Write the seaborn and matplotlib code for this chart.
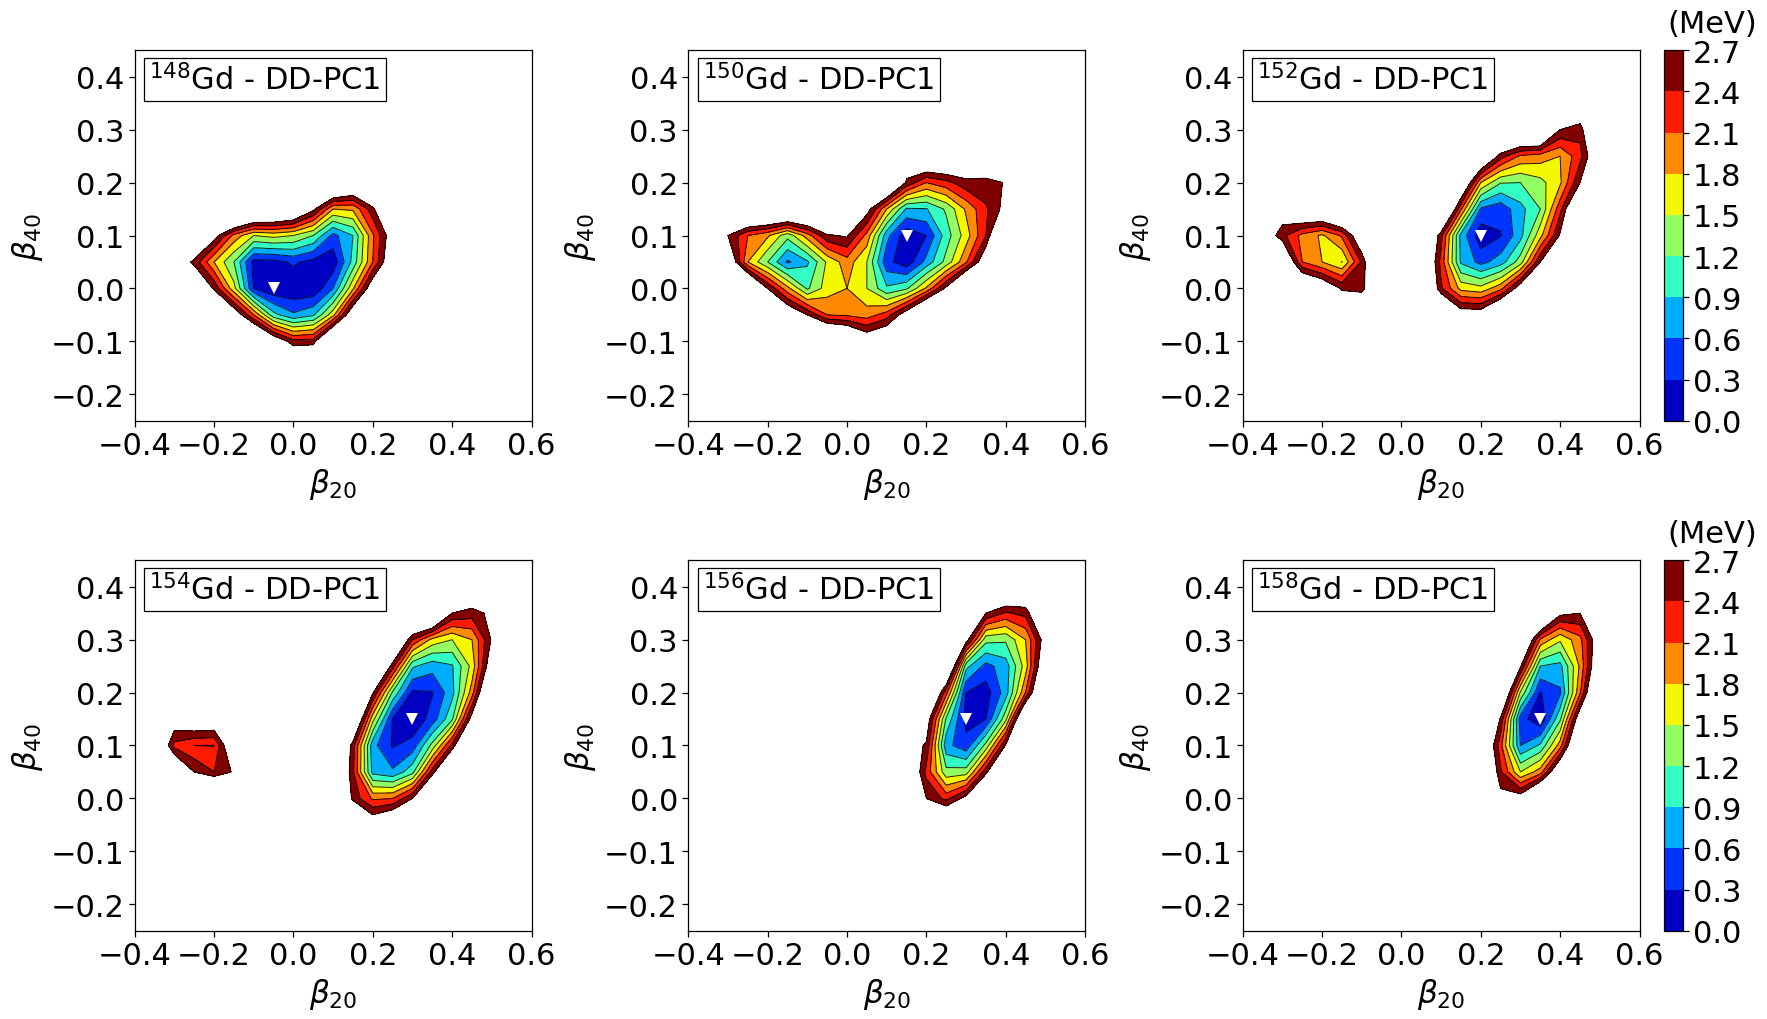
import numpy as np
import matplotlib
matplotlib.use("Agg")
import matplotlib.pyplot as plt
from matplotlib.colors import Normalize
import seaborn as sns

sns.set_style("ticks")
plt.rcParams['font.family'] = ['DejaVu Sans']
plt.rcParams['mathtext.fontset'] = 'dejavusans'

beta20 = [-0.35,-0.30,-0.25,-0.20,-0.15,-0.10,-0.05,0.0,0.05,0.10,0.15,0.20,0.25,0.30,0.35,0.40,0.45,0.50,0.55]
beta40 = [0.40,0.35,0.30,0.25,0.20,0.15,0.10,0.05,0.0,-0.05,-0.10,-0.15]
levels = [0.0,0.3,0.6,0.9,1.2,1.5,1.8,2.1,2.4,2.7]
tick_x = [-0.4,-0.2,0.0,0.2,0.4,0.6]
tick_y = [-0.2,-0.1,0.0,0.1,0.2,0.3,0.4]

labels = ['148','150','152','154','156','158']
minima = [(-0.05,0.0),(0.15,0.1),(0.2,0.1),(0.3,0.15),(0.3,0.15),(0.35,0.15)]

gd148 = [
[4,4,4,4,4,4,4,4,4,4,4,4,4,4,4,4,4,4,4],
[4,4,4,4,4,4,4,4,4,4,4,4,4,4,4,4,4,4,4],
[4,4,4,4,4,4,4,4,4,4,4,4,4,4,4,4,4,4,4],
[4,4,4,4,4,4,4,4,4,4,4,4,4,4,4,4,4,4,4],
[4,4,4,4,4,4,4,4,4,3.95,3.5,4,4,4,4,4,4,4,4],
[4,4,4,4,4.5,3.95,3.8,3.55,2.8,1.8,1.85,2.6,3.8,4,4,4,4,4,4],
[4,4,3.6,2.9,2.0,1.5,1.6,1.5,1.2,0.5,0.9,2.05,3.0,4,4,4,4,4,4],
[4,3.2,2.6,1.8,1.2,0.2,0.2,0.35,0.2,0.1,1.0,2.1,3.2,4,4,4,4,4,4],
[4,4,3.4,2.65,1.6,0.3,0.05,0.05,0.05,0.6,1.75,3.1,4,4,4,4,4,4,4],
[4,4,4,3.8,3.1,2.1,1.0,0.65,0.85,1.7,3.2,4,4,4,4,4,4,4,4],
[4,4,4,4,4,4,3.15,2.5,2.55,4,4,4,4,4,4,4,4,4,4],
[4,4,4,4,4,4,4,3.7,3.7,4,4,4,4,4,4,4,4,4,4],
]
gd150 = [
[4,4,4,4,4,4,4,4,4,4,4,4,4,4,4,4,4,4,4],
[4,4,4,4,4,4,4,4,4,4,4,4,4,4,4,4,4,4,4],
[4,4,4,4,4,4,4,4,4,4,4,4,4,4,4,4,4,4,4],
[4,4,4,4,4,4,4,4,4,4,3.0,3.6,3.6,3.3,3.2,4,4,4,4],
[4,4,4,4,4,4,4,4,4,3.9,2.65,2.1,2.3,2.6,2.6,2.72,4,4,4],
[4,4,4,4,4,4,4,3.9,2.9,1.8,0.85,0.88,1.25,1.85,2.35,2.85,4,4,4],
[4,2.7,2.1,1.85,1.3,1.95,2.65,2.75,2.0,0.7,0.1,0.3,1.05,1.65,2.4,3.9,4,4,4],
[4,3.3,1.8,1.2,0.55,0.85,1.55,1.96,1.5,0.4,0.1,0.7,1.3,2.05,3.1,4,4,4,4],
[4,4,4,2.7,1.9,1.15,1.65,1.8,1.5,0.95,1.15,1.85,2.8,4,4,4,4,4,4],
[4,4,4,3.8,3.2,2.7,2.1,2.05,1.95,2.25,3.0,4,4,4,4,4,4,4,4],
[4,4,4,4,4,4,4,3.7,3.1,3.35,4,4,4,4,4,4,4,4,4],
[4,4,4,4,4,4,4,4,4,4,4,4,4,4,4,4,4,4,4],
]
gd152 = [
[4,4,4,4,4,4,4,4,4,4,4,4,4,4,4,4,4,4,4],
[4,4,4,4,4,4,4,4,4,4,4,4,4,4,4,3.4,3.4,4,4],
[4,4,4,4,4,4,4,4,4,4,4,4,4,3.9,3.9,2.7,2.5,3.9,4],
[4,4,4,4,4,4,4,4,4,4,4,3.6,2.55,2.05,1.95,1.8,2.3,3.3,4],
[4,4,4,4,4,4,4,4,4,4,3.5,1.8,1.22,1.2,1.4,1.75,2.7,4,4],
[4,3.0,3.5,3.55,4,4,4,4,4,4,2.15,0.55,0.4,0.8,1.2,2.3,3.7,4,4],
[3.1,2.5,2.0,1.75,2.15,3.2,4,4,3.8,2.5,0.8,0.1,0.28,0.8,1.7,2.75,4,4,4],
[3.6,3.5,2.1,1.8,1.49,2.45,3.9,4,3.6,2.3,0.85,0.5,0.75,1.35,2.7,3.9,4,4,4],
[4,4,3.6,3.2,2.65,2.65,3.0,4,3.8,2.45,1.7,1.6,2.0,3.0,4,4,4,4,4],
[4,4,4,4,3.3,3.0,4,4,4,3.8,3.0,3.0,3.8,4,4,4,4,4,4],
[4,4,4,4,4,4,4,4,4,4,4,4,4,4,4,4,4,4,4],
[4,4,4,4,4,4,4,4,4,4,4,4,4,4,4,4,4,4,4],
]
gd154 = [
[4,4,4,4,4,4,4,4,4,4,4,4,4,4,4,4,3.35,4,4],
[4,4,4,4,4,4,4,4,4,4,4,4,4,4,4,2.7,2.55,2.8,4],
[4,4,4,4,4,4,4,4,4,4,4,4,3.8,2.4,1.7,1.5,1.8,2.75,4],
[4,4,4,4,4,4,4,4,4,4,4,3.8,2.55,0.95,0.72,0.87,1.6,3.1,4],
[4,4,4,4,4,4,4,4,4,4,4,2.75,1.15,0.25,0.28,0.8,1.95,3.9,4],
[4,3.0,3.2,3.15,4,4,4,4,4,4,3.6,1.6,0.28,0.05,0.43,1.15,2.9,4,4],
[3.6,2.3,2.1,2.09,3.3,4,4,4,4,3.8,2.55,0.7,0.27,0.42,1.3,2.5,3.9,4,4],
[4,3.5,2.7,2.4,2.75,3.9,4,4,4,3.8,2.45,0.8,0.65,1.1,2.55,3.9,4,4,4],
[4,4,4,4.2,3.5,4,4,4,4,4,2.6,2.05,2.1,2.7,3.9,4,4,4,4],
[4,4,4,4,4,4,4,4,4,4,4,3.1,3.5,4,4,4,4,4,4],
[4,4,4,4,4,4,4,4,4,4,4,4,4,4,4,4,4,4,4],
[4,4,4,4,4,4,4,4,4,4,4,4,4,4,4,4,4,4,4],
]
gd156 = [
[4,4,4,4,4,4,4,4,4,4,4,4,4,4,3.9,3.65,3.4,4,4],
[4,4,4,4,4,4,4,4,4,4,4,4,4,4,2.7,2.35,2.5,3.6,4],
[4,4,4,4,4,4,4,4,4,4,4,4,4,2.9,1.3,1.25,1.8,2.95,4],
[4,4,4,4,4,4,4,4,4,4,4,4,3.9,1.0,0.5,0.75,1.65,3.3,4],
[4,4,4,4,4,4,4,4,4,4,4,4,2.2,0.3,0.15,0.75,2.1,3.9,4],
[4,4,4,4,4,4,4,4,4,4,4,3.0,1.15,0.2,0.3,1.4,3.8,4,4],
[4,4,4,4,4,4,4,4,4,4,2.95,2.65,0.7,0.4,1.3,2.75,4,4,4],
[4,4,4,4,4,4,4,4,4,4,3.5,2.3,1.3,1.35,2.6,3.9,4,4,4],
[4,4,4,4,4,4,4,4,4,4,3.9,2.7,2.3,2.85,3.9,4,4,4,4],
[4,4,4,4,4,4,4,4,4,4,4,3.9,3.7,3.9,4,4,4,4,4],
[4,4,4,4,4,4,4,4,4,4,4,4,4,4,4,4,4,4,4],
[4,4,4,4,4,4,4,4,4,4,4,4,4,4,4,4,4,4,4],
]
gd158 = [
[4,4,4,4,4,4,4,4,4,4,4,4,4,4,4,3.4,3.4,4,4],
[4,4,4,4,4,4,4,4,4,4,4,4,4,4,4,2.8,2.7,4,4],
[4,4,4,4,4,4,4,4,4,4,4,4,4,3.7,2.05,1.55,2.0,3.1,4],
[4,4,4,4,4,4,4,4,4,4,4,4,4,2.75,0.9,0.8,1.85,3.3,4],
[4,4,4,4,4,4,4,4,4,4,4,4,3.7,1.45,0.28,0.55,2.05,3.9,4],
[4,4,4,4,4,4,4,4,4,4,4,4,2.65,0.45,0.05,1.15,3.1,4,4],
[4,4,4,4,4,4,4,4,4,4,4,3.6,2.2,0.6,0.95,1.95,3.8,4,4],
[4,4,4,4,4,4,4,4,4,4,4,3.8,2.45,1.5,1.95,3.4,4,4,4],
[4,4,4,4,4,4,4,4,4,4,4,4,2.85,2.95,4,4,4,4,4],
[4,4,4,4,4,4,4,4,4,4,4,4,4,4,4,4,4,4,4],
[4,4,4,4,4,4,4,4,4,4,4,4,4,4,4,4,4,4,4],
[4,4,4,4,4,4,4,4,4,4,4,4,4,4,4,4,4,4,4],
]
grids = [gd148, gd150, gd152, gd154, gd156, gd158]

W, H = 1767, 1020
fig = plt.figure(figsize=(W/100, H/100), dpi=100)
lefts = [134.7, 688.3, 1242.7]
tops = [51.3, 561.3]
aw, ah = 396.8, 370.4
cmap = plt.get_cmap("jet")
norm = Normalize(vmin=0.0, vmax=2.55)
FS = 22

def box(l, t, w, h):
    return [l/W, 1-(t+h)/H, w/W, h/H]

for i, (lab, g, m) in enumerate(zip(labels, grids, minima)):
    r, c = divmod(i, 3)
    ax = fig.add_axes(box(lefts[c], tops[r], aw, ah))
    Z = np.array(g, dtype=float)
    cf = ax.contourf(beta20, beta40, Z, levels=levels, cmap=cmap, norm=norm)
    ax.contour(beta20, beta40, Z, levels=levels, colors='k', linewidths=0.7, alpha=0.85)
    ax.plot([m[0]], [m[1]], 'v', color='w', ms=9, mew=0)
    ax.set_xlim(-0.4, 0.6)
    ax.set_ylim(-0.25, 0.45)
    ax.set_xticks(tick_x)
    ax.set_yticks(tick_y)
    ax.tick_params(labelsize=FS, length=4, width=0.9, color='k', labelcolor='k')
    for s in ax.spines.values():
        s.set_visible(True); s.set_color('k'); s.set_linewidth(0.9)
    ax.set_xlabel(r'$\beta_{20}$', fontsize=FS+0.5, color='k')
    ax.set_ylabel(r'$\beta_{40}$', fontsize=FS+0.5, color='k')
    ax.text(0.037, 0.966, r'$^{%s}$Gd - DD-PC1' % lab, transform=ax.transAxes, fontsize=FS,
            ha='left', va='top', color='k',
            bbox=dict(boxstyle='square,pad=0.17', fc='w', ec='k', lw=0.9))
    if c == 2:
        cax = fig.add_axes(box(1664, tops[r], 18.7, ah))
        cb = fig.colorbar(cf, cax=cax, ticks=levels)
        cb.ax.tick_params(labelsize=FS, length=4, width=0.9, color='k', labelcolor='k')
        cb.ax.set_yticklabels(['%.1f' % v for v in levels])
        cb.outline.set_edgecolor('k'); cb.outline.set_linewidth(0.9)
        fig.text(1712/W, 1-(tops[r]-26.5)/H, '(MeV)', fontsize=FS, ha='center', va='center', color='k')

fig.savefig('out.png', dpi=100)
